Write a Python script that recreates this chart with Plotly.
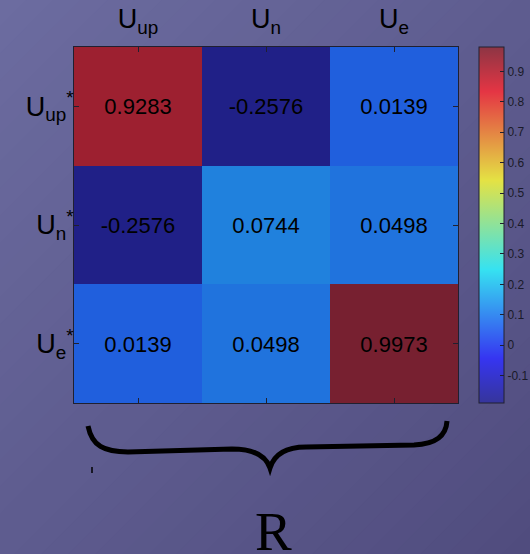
import plotly.graph_objects as go

# ---------------- data ----------------
col_labels = ["U<sub>up</sub>", "U<sub>n</sub>", "U<sub>e</sub>"]
row_labels = ["U<sub>up</sub><sup>*</sup>", "U<sub>n</sub><sup>*</sup>", "U<sub>e</sub><sup>*</sup>"]
R_values = [
    [0.9283, -0.2576, 0.0139],
    [-0.2576, 0.0744, 0.0498],
    [0.0139, 0.0498, 0.9973],
]
cbar_tickvals = [-0.1, 0, 0.1, 0.2, 0.3, 0.4, 0.5, 0.6, 0.7, 0.8, 0.9]
cbar_ticktext = ["-0.1", "0", "0.1", "0.2", "0.3", "0.4", "0.5", "0.6", "0.7", "0.8", "0.9"]
cbar_range = [-0.19, 0.98]
brace_label = "R"

# ---------------- style ----------------
VIEW_W, H = 530, 554
W = 560  # wider than the window: colorbar labels get clipped at the right edge like the reference
ML, MT, MB = 74, 47, 151
PW = 384
MR = W - ML - PW
PH = H - MT - MB
BG = (100, 100, 150)

jet = [(0.0, (0, 0, 128)), (0.125, (0, 0, 255)), (0.375, (0, 255, 255)),
       (0.625, (255, 255, 0)), (0.875, (255, 0, 0)), (1.0, (128, 0, 0))]


def blend(c, a, bg=BG):
    return "rgb(%d,%d,%d)" % tuple(round(a * c[i] + (1 - a) * bg[i]) for i in range(3))


heat_scale = [[p, blend(c, 0.68)] for p, c in jet]
bar_scale = [[p, blend(c, 0.68, (170, 165, 212))] for p, c in jet]


def px2paper(x, y):
    return (x - ML) / PW, 1 - (y - MT) / PH


fig = go.Figure()
fig.add_trace(go.Heatmap(
    z=R_values, x=col_labels, y=row_labels,
    colorscale=heat_scale, showscale=False,
    zmin=min(min(r) for r in R_values), zmax=max(max(r) for r in R_values),
    texttemplate="%{z:.4f}",
    textfont=dict(size=22, color="black", family="Liberation Sans, Arial"),
    hoverinfo="skip", xgap=0, ygap=0,
))
# colorbar proxy
fig.add_trace(go.Scatter(
    x=[None], y=[None], mode="markers", showlegend=False, hoverinfo="skip",
    marker=dict(color=[cbar_range[0]], cmin=cbar_range[0], cmax=cbar_range[1],
                colorscale=bar_scale, showscale=True,
                colorbar=dict(
                    x=(479 - ML) / PW, xanchor="left", xpad=0,
                    y=0.5, yanchor="middle", len=1, lenmode="fraction",
                    ypad=0, thickness=25, thicknessmode="pixels",
                    outlinewidth=1, outlinecolor="#202030",
                    tickvals=cbar_tickvals, ticktext=cbar_ticktext,
                    ticks="inside", ticklen=4, tickcolor="#202030",
                    tickfont=dict(size=12, color="#1a1a28", family="Liberation Sans, Arial"),
                )),
))

# gradient background bands
shapes = []
N = 40
S = VIEW_W + H
for i in range(N):
    t0, t1 = i / N, (i + 1) / N
    c0, c1 = t0 * S - 1, t1 * S + 1
    t = (t0 + t1) / 2
    col = tuple(round(a + (b - a) * t) for a, b in zip((108, 108, 160), (80, 76, 126)))
    pts = [(c0 + 300, -300), (c1 + 300, -300), (-300, c1 + 300), (-300, c0 + 300)]
    pp = [px2paper(x, y) for x, y in pts]
    path = "M " + " L ".join("%.4f,%.4f" % p for p in pp) + " Z"
    shapes.append(dict(type="path", xref="paper", yref="paper", path=path,
                       fillcolor="rgb(%d,%d,%d)" % col, line=dict(width=0), layer="below"))

# curly brace
brace_px = [("M", [(88, 426)]),
            ("C", [(92, 446), (104, 452), (128, 452)]),
            ("L", [(232, 449)]),
            ("C", [(254, 449), (266, 456), (270, 468)]),
            ("C", [(274, 455), (284, 447), (306, 447)]),
            ("L", [(414, 445)]),
            ("C", [(436, 444), (446, 436), (447, 421)])]
bp = ""
for cmd, pts in brace_px:
    bp += cmd + " " + " ".join("%.4f,%.4f" % px2paper(x, y) for x, y in pts) + " "
shapes.append(dict(type="path", xref="paper", yref="paper", path=bp.strip(),
                   line=dict(color="black", width=5), layer="above"))
x0, y0 = px2paper(92, 467)
x1, y1 = px2paper(92, 473)
shapes.append(dict(type="line", xref="paper", yref="paper", x0=x0, y0=y0, x1=x1, y1=y1,
                   line=dict(color="black", width=1.5)))

rx, ry = px2paper(273, 531)
fig.add_annotation(text=brace_label, xref="paper", yref="paper", x=rx, y=ry,
                   showarrow=False, xanchor="center", yanchor="middle",
                   font=dict(size=55, color="black", family="Liberation Serif, DejaVu Serif, serif"))

axis_common = dict(showline=True, linecolor="#202030", linewidth=1, mirror="ticks",
                   ticks="inside", ticklen=5, tickcolor="#202030", showgrid=False,
                   zeroline=False, automargin=False,
                   tickfont=dict(size=27, color="black", family="Liberation Sans, Arial"))

fig.update_layout(
    width=W, height=H,
    margin=dict(l=ML, r=MR, t=MT, b=MB, pad=0, autoexpand=False),
    paper_bgcolor="rgb(95,92,145)", plot_bgcolor="rgb(95,92,145)",
    shapes=shapes,
    xaxis=dict(side="top", ticklabelstandoff=7, **axis_common),
    yaxis=dict(autorange="reversed", ticklabelstandoff=-6, **axis_common),
    showlegend=False,
)
fig.write_html(
    "out.html",
    config={"displayModeBar": False},
    post_script="document.body.style.margin='0';document.body.style.overflow='hidden';",
)
